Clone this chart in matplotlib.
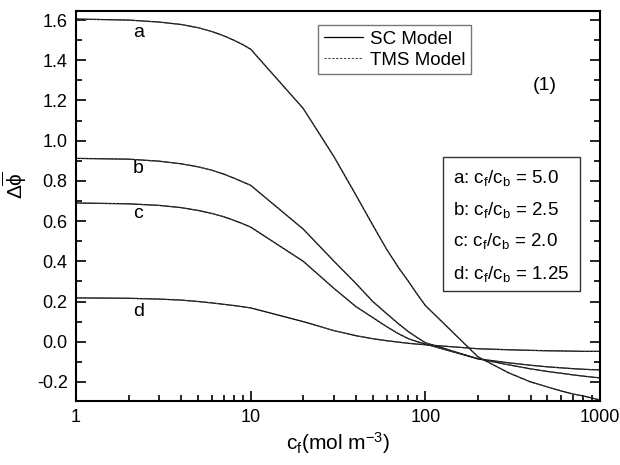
import matplotlib.pyplot as plt
from matplotlib.patches import Rectangle
from matplotlib.ticker import MultipleLocator, LogLocator, NullFormatter, FixedLocator

plt.rcParams['font.family'] = ['Liberation Sans', 'DejaVu Sans']
plt.rcParams['mathtext.fontset'] = 'custom'
plt.rcParams['mathtext.rm'] = 'Liberation Sans'
plt.rcParams['mathtext.it'] = 'Liberation Sans'
plt.rcParams['mathtext.default'] = 'regular'

# concentration c_f (mol m^-3)
cf = [1, 2, 3, 4, 5, 6, 7, 8, 9, 10, 20, 30, 40, 50, 60, 70, 80, 90, 100,
      200, 300, 400, 500, 600, 700, 800, 900, 1000]

# SC model curves
sc_a = [1.605, 1.600, 1.590, 1.578, 1.562, 1.543, 1.522, 1.500, 1.478, 1.455,
        1.16, 0.92, 0.73, 0.58, 0.46, 0.37, 0.30, 0.235, 0.18,
        -0.075, -0.155, -0.20, -0.225, -0.245, -0.26, -0.27, -0.28, -0.29]
sc_b = [0.912, 0.908, 0.898, 0.885, 0.870, 0.853, 0.834, 0.814, 0.795, 0.778,
        0.56, 0.40, 0.29, 0.20, 0.14, 0.09, 0.05, 0.02, -0.005,
        -0.085, -0.115, -0.135, -0.148, -0.157, -0.165, -0.171, -0.176, -0.18]
sc_c = [0.690, 0.686, 0.678, 0.667, 0.653, 0.638, 0.622, 0.604, 0.587, 0.570,
        0.40, 0.265, 0.175, 0.12, 0.075, 0.04, 0.015, 0.0, -0.012,
        -0.085, -0.105, -0.117, -0.125, -0.130, -0.134, -0.137, -0.139, -0.14]
sc_d = [0.218, 0.216, 0.212, 0.207, 0.200, 0.193, 0.186, 0.180, 0.174, 0.168,
        0.10, 0.055, 0.03, 0.015, 0.005, -0.002, -0.008, -0.012, -0.015,
        -0.035, -0.040, -0.043, -0.045, -0.046, -0.047, -0.048, -0.048, -0.048]

# TMS model (indistinguishable from SC at this scale)
tms_a = list(sc_a)
tms_b = list(sc_b)
tms_c = list(sc_c)
tms_d = list(sc_d)

curve_names = ['a', 'b', 'c', 'd']
ratios = ['5.0', '2.5', '2.0', '1.25']
name_y = [1.54, 0.86, 0.64, 0.15]

fig = plt.figure(figsize=(6.2, 4.65), dpi=100)
ax = fig.add_axes([0.1226, 0.1376, 0.8452, 0.8387])

sc = [sc_a, sc_b, sc_c, sc_d]
tms = [tms_a, tms_b, tms_c, tms_d]
for i in range(4):
    ax.plot(cf, sc[i], color='black', lw=0.9, label='SC Model' if i == 0 else None)
    ax.plot(cf, tms[i], color='#444444', lw=0.8, ls=(0, (2, 1.5)),
            label='TMS Model' if i == 0 else None)
    ax.text(2.27, name_y[i], curve_names[i], fontsize=14, ha='center', va='center')

ax.set_xscale('log')
ax.set_xlim(1, 1000)
ax.set_ylim(-0.295, 1.645)

ax.xaxis.set_major_locator(FixedLocator([1, 10, 100, 1000]))
ax.set_xticklabels(['1', '10', '100', '1000'])
ax.xaxis.set_minor_locator(LogLocator(base=10, subs=range(2, 10)))
ax.xaxis.set_minor_formatter(NullFormatter())
ax.yaxis.set_minor_locator(MultipleLocator(0.1))
ax.set_yticks([-0.2, 0.0, 0.2, 0.4, 0.6, 0.8, 1.0, 1.2, 1.4, 1.6])
ax.set_yticklabels(['-0.2', '0.0', '0.2', '0.4', '0.6', '0.8', '1.0', '1.2', '1.4', '1.6'])

ax.tick_params(which='both', direction='in', right=True, top=False,
               labelsize=13, width=1.2)
ax.tick_params(which='major', length=7, pad=6)
ax.tick_params(which='minor', length=4)
for s in ax.spines.values():
    s.set_linewidth(1.5)

ax.set_xlabel('$c_f$(mol m$^{-3}$)', fontsize=15, labelpad=3)
ax.set_ylabel(r'$\Delta\overline{\phi}$', fontsize=15)
ax.yaxis.set_label_coords(-0.09, 0.554)

leg = ax.legend(loc='upper left', bbox_to_anchor=(0.462, 0.964), fontsize=13.5,
                frameon=True, fancybox=False, handlelength=2.1,
                borderaxespad=0, borderpad=0.3, labelspacing=0.2,
                handletextpad=0.35)
leg.get_frame().set_edgecolor('#555555')
leg.get_frame().set_linewidth(1.0)

ax.text(0.895, 0.81, '(1)', transform=ax.transAxes, fontsize=14,
        ha='center', va='center')

# parameter box
ax.add_patch(Rectangle((0.700, 0.282), 0.262, 0.344, transform=ax.transAxes,
                       fc='white', ec='#333333', lw=1.0, zorder=4))
line_y = [0.559, 0.477, 0.398, 0.313]
for n, r, yy in zip(curve_names, ratios, line_y):
    ax.text(0.7195, yy, f'{n}: $c_f/c_b$ = {r}', transform=ax.transAxes,
            fontsize=13.5, ha='left', va='baseline', zorder=5)

fig.savefig('out.png', dpi=100)
